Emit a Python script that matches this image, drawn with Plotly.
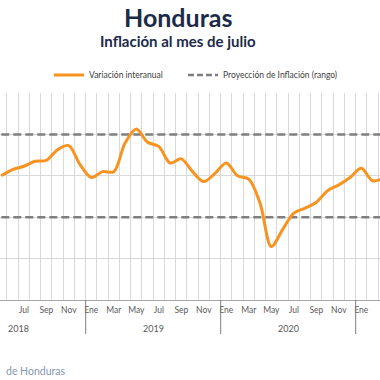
import plotly.graph_objects as go

# ---- data ----
years = [2018] * 8 + [2019] * 12 + [2020] * 12 + [2021] * 3
months = (["May", "Jun", "Jul", "Ago", "Sep", "Oct", "Nov", "Dic"]
          + ["Ene", "Feb", "Mar", "Abr", "May", "Jun", "Jul", "Ago", "Sep", "Oct", "Nov", "Dic"] * 2
          + ["Ene", "Feb", "Mar"])
inflation = [4.00, 4.15, 4.23, 4.35, 4.37, 4.63, 4.73, 4.27,
             3.96, 4.10, 4.10, 4.79, 5.13, 4.81, 4.71, 4.31, 4.41, 4.10, 3.86, 4.06,
             4.31, 4.00, 3.92, 3.34, 2.29, 2.70, 3.10, 3.22, 3.36, 3.64, 3.78, 3.96,
             4.18, 3.88, 3.95]
target_low = 3.0
target_high = 5.0
year_labels = [2018, 2019, 2020]
base_year = 2018
month_order = ["Ene", "Feb", "Mar", "Abr", "May", "Jun", "Jul", "Ago", "Sep", "Oct", "Nov", "Dic"]
shown_months = ["Ene", "Mar", "May", "Jul", "Sep", "Nov"]

# month index (category position) computed from data
x = [(y - base_year) * 12 + month_order.index(m) for y, m in zip(years, months)]
tickvals = [xi for xi, m in zip(x, months) if m in shown_months]
ticktext = [m for m in months if m in shown_months]

W, H = 380, 380
top, bottom = 93, 300
ph = bottom - top
px_per_month = 11.25
first_center_px = -43.7  # pixel of Jan of base year
x0 = (0 - first_center_px) / px_per_month
x1 = (W - first_center_px) / px_per_month

def py(pixel):
    return (bottom - pixel) / ph

fig = go.Figure()
fig.add_trace(go.Scatter(x=x, y=[target_high] * len(x), mode="lines",
                         line=dict(color="#7f7f7f", width=2.5, dash="8px,4px"),
                         name="Proyección de Inflación (rango)", showlegend=False))
fig.add_trace(go.Scatter(x=x, y=[target_low] * len(x), mode="lines",
                         line=dict(color="#7f7f7f", width=2.5, dash="8px,4px"),
                         name="Proyección de Inflación (rango)", showlegend=False))
fig.add_trace(go.Scatter(x=x, y=inflation, mode="lines",
                         line=dict(color="#F7931E", width=3, shape="spline", smoothing=0.9),
                         name="Variación interanual", legend="legend"))
# legend-only entry for dashed series
fig.add_trace(go.Scatter(x=[None], y=[None], mode="lines",
                         line=dict(color="#7f7f7f", width=2.5, dash="6px,3px"),
                         name="Proyección de Inflación (rango)", legend="legend2"))

font_family = "Lato, 'Open Sans', sans-serif"
leg_common = dict(orientation="h", xanchor="left", y=py(75), yanchor="middle",
                  font=dict(size=8.5, color="#404040"), bgcolor="rgba(0,0,0,0)")
fig.update_layout(
    width=W, height=H, autosize=False,
    margin=dict(l=0, r=0, t=top, b=H - bottom, pad=0),
    paper_bgcolor="white", plot_bgcolor="white",
    font=dict(family=font_family, color="#595959", size=9),
    showlegend=True,
    legend=dict(x=49 / W, **leg_common),
    legend2=dict(x=183 / W, **leg_common),
    xaxis=dict(range=[x0, x1], tickmode="array", tickvals=tickvals, ticktext=ticktext,
               showgrid=False, zeroline=False, showline=True, linecolor="#a6a6a6", linewidth=1,
               ticks="", tickfont=dict(size=8.5, color="#595959"), ticklabelstandoff=2,
               minor=dict(tickmode="linear", tick0=-0.5, dtick=1, showgrid=True,
                          gridcolor="#d9d9d9", gridwidth=1, ticks="")),
    yaxis=dict(range=[1, 6], dtick=1, tick0=0, showgrid=True, gridcolor="#d9d9d9", gridwidth=1,
               showticklabels=False, zeroline=False, showline=False, ticks=""),
)

anns = [
    dict(text="<b>Honduras</b>", x=178 / W, y=py(17), xref="paper", yref="paper",
         showarrow=False, xanchor="center", yanchor="middle",
         font=dict(size=25, color="#1c2b4a", family=font_family)),
    dict(text="<b>Inflación al mes de julio</b>", x=178 / W, y=py(41), xref="paper", yref="paper",
         showarrow=False, xanchor="center", yanchor="middle",
         font=dict(size=15, color="#1c2b4a", family=font_family)),
    dict(text="de Honduras", x=4 / W, y=py(371), xref="paper", yref="paper",
         showarrow=False, xanchor="left", yanchor="middle",
         font=dict(size=10.5, color="#8497B0", family=font_family)),
]
for yr in year_labels:
    anns.append(dict(text=str(yr), x=(yr - base_year) * 12 + 5.5, y=py(328), xref="x", yref="paper",
                     showarrow=False, xanchor="center", yanchor="middle",
                     font=dict(size=9, color="#595959")))
fig.update_layout(annotations=anns)

shapes = []
for yr in [2019, 2020, 2021]:
    xs = (yr - base_year) * 12 - 0.5
    shapes.append(dict(type="line", xref="x", yref="paper", x0=xs, x1=xs, y0=0, y1=py(334),
                       line=dict(color="#7f7f7f", width=1)))
fig.update_layout(shapes=shapes)

fig.write_html("out.html", config={"displayModeBar": False},
               post_script="document.body.style.margin='0';document.body.style.overflow='hidden';")
